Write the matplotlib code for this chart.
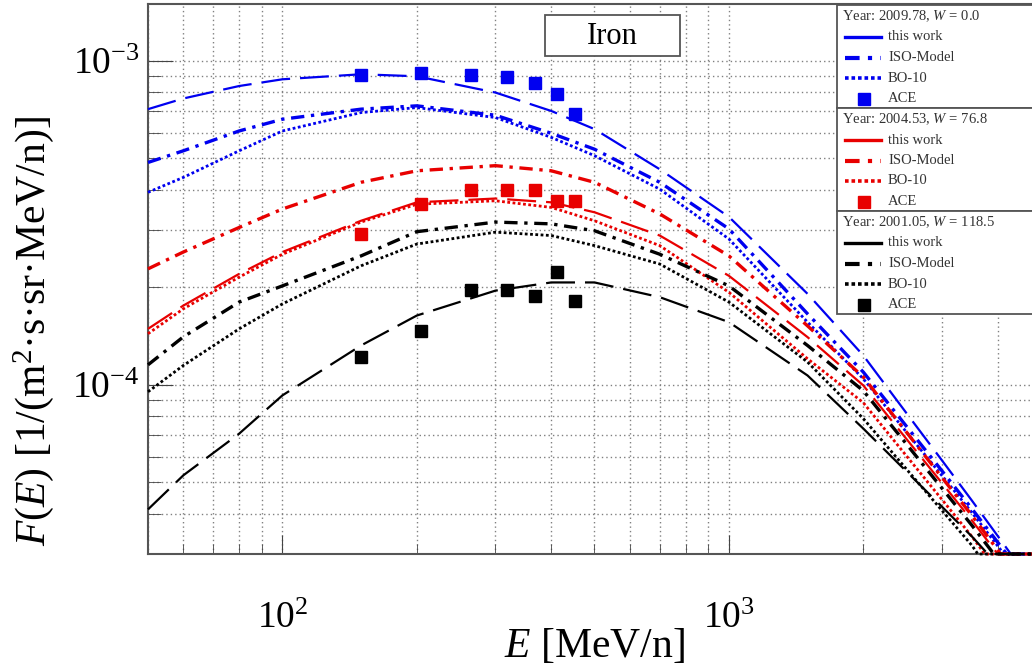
import matplotlib
matplotlib.use("Agg")
import matplotlib.pyplot as plt
from matplotlib.lines import Line2D
from matplotlib.patches import Rectangle

plt.rcParams['font.family'] = ['Liberation Serif', 'DejaVu Serif']
plt.rcParams['mathtext.fontset'] = 'custom'
plt.rcParams['mathtext.rm'] = 'Liberation Serif'
plt.rcParams['mathtext.it'] = 'Liberation Serif:italic'

# kinetic energy grid the curves were read at [MeV/n]
energy = [50, 60, 80, 100, 150, 200, 300, 400, 500, 700, 1000, 1500, 2000, 2500, 3000, 3500]
e_end = 5000
f_floor = 3e-5

# 2009.78, W = 0.0
tw_2009 = [7.10e-4, 7.66e-4, 8.37e-4, 8.78e-4, 9.10e-4, 8.97e-4, 7.99e-4, 7.01e-4, 6.16e-4, 4.63e-4,
           3.30e-4, 1.909e-4, 1.231e-4, 8.16e-5, 5.84e-5, 4.39e-5]
iso_2009 = [4.86e-4, 5.28e-4, 6.08e-4, 6.61e-4, 7.10e-4, 7.27e-4, 6.80e-4, 5.98e-4, 5.34e-4, 4.22e-4,
            3.03e-4, 1.656e-4, 1.094e-4, 7.43e-5, 5.42e-5, 4.14e-5]
bo_2009 = [3.93e-4, 4.37e-4, 5.28e-4, 6.08e-4, 6.93e-4, 7.18e-4, 6.69e-4, 5.81e-4, 5.10e-4, 4.02e-4,
           2.82e-4, 1.561e-4, 1.043e-4, 7.13e-5, 5.24e-5, 4.03e-5]
# 2004.53, W = 76.8
tw_2004 = [1.488e-4, 1.756e-4, 2.20e-4, 2.57e-4, 3.21e-4, 3.66e-4, 3.76e-4, 3.66e-4, 3.41e-4, 2.89e-4,
           2.17e-4, 1.403e-4, 9.95e-5, 6.79e-5, 4.97e-5, 3.81e-5]
iso_2004 = [2.28e-4, 2.57e-4, 3.06e-4, 3.49e-4, 4.22e-4, 4.58e-4, 4.75e-4, 4.58e-4, 4.22e-4, 3.37e-4,
            2.50e-4, 1.52e-4, 1.056e-4, 7.13e-5, 5.17e-5, 3.95e-5]
bo_2004 = [1.437e-4, 1.716e-4, 2.15e-4, 2.53e-4, 3.18e-4, 3.61e-4, 3.70e-4, 3.53e-4, 3.21e-4, 2.69e-4,
           1.93e-4, 1.203e-4, 8.80e-5, 6.02e-5, 4.42e-5, 3.40e-5]
# 2001.05, W = 118.5
tw_2001 = [4.12e-5, 5.25e-5, 7.06e-5, 9.27e-5, 1.322e-4, 1.636e-4, 1.953e-4, 2.07e-4, 2.07e-4, 1.864e-4,
           1.561e-4, 1.068e-4, 7.32e-5, 5.39e-5, 4.20e-5, 3.40e-5]
iso_2001 = [1.152e-4, 1.406e-4, 1.80e-4, 2.02e-4, 2.50e-4, 2.97e-4, 3.18e-4, 3.14e-4, 2.99e-4, 2.53e-4,
            2.02e-4, 1.322e-4, 9.58e-5, 6.55e-5, 4.79e-5, 3.68e-5]
bo_2001 = [9.51e-5, 1.147e-4, 1.488e-4, 1.777e-4, 2.33e-4, 2.72e-4, 2.96e-4, 2.89e-4, 2.69e-4, 2.36e-4,
           1.80e-4, 1.175e-4, 7.86e-5, 5.48e-5, 4.09e-5, 3.19e-5]

# energy where each curve drops below the frame (this work, ISO, BO-10)
cross_2009 = [4280, 4190, 4130]
cross_2004 = [4000, 4060, 3740]
cross_2001 = [3800, 3920, 3610]

# ACE data
ace_energy = [150, 204, 264, 318, 367, 412, 453]
ace_2009 = [9.03e-4, 9.17e-4, 9.03e-4, 8.95e-4, 8.58e-4, 7.89e-4, 6.88e-4]
ace_2004 = [2.92e-4, 3.61e-4, 3.99e-4, 3.99e-4, 3.99e-4, 3.69e-4, 3.69e-4]
ace_2001 = [1.217e-4, 1.47e-4, 1.967e-4, 1.967e-4, 1.877e-4, 2.226e-4, 1.82e-4]

years = ['2009.78', '2004.53', '2001.05']
w_values = ['0.0', '76.8', '118.5']
colors = ['#0000f0', '#e80000', 'black']
models = ['this work', 'ISO-Model', 'BO-10', 'ACE']

groups = [(tw_2009, iso_2009, bo_2009, cross_2009, ace_2009),
          (tw_2004, iso_2004, bo_2004, cross_2004, ace_2004),
          (tw_2001, iso_2001, bo_2001, cross_2001, ace_2001)]

styles = [dict(lw=1.6, dashes=(13, 4.5)),
          dict(lw=2.4, dashes=(4, 2, 1, 2)),
          dict(lw=2.0, dashes=(1, 0.9))]

fig = plt.figure(figsize=(10.32, 6.68), dpi=100)
ax = fig.add_axes([148 / 1032, 114 / 668, 893 / 1032, 550 / 668])

for (tw, iso, bo, cross, ace), col in zip(groups, colors):
    for vals, ce, st in zip([tw, iso, bo], cross, styles):
        ax.plot(energy + [ce, e_end], vals + [f_floor, f_floor], color=col, clip_on=False, zorder=3, **st)
    ax.plot(ace_energy, ace, 's', color=col, ms=9, zorder=4)

ax.set_xscale('log')
ax.set_yscale('log')
ax.set_xlim(50, 5000)
ax.set_ylim(3e-5, 1.5e-3)
ax.grid(True, which='both', linestyle=(0, (1, 2.2)), color='#808080', lw=1.0)
ax.tick_params(which='both', direction='in', top=False, right=False, color='#444444')
ax.tick_params(axis='x', which='major', length=14, labelsize=27, pad=34)
ax.tick_params(axis='x', which='minor', length=7)
ax.tick_params(axis='y', which='major', length=18, labelsize=27, pad=6)
ax.tick_params(axis='y', which='minor', length=9)
ax.yaxis.set_minor_formatter(plt.NullFormatter())
ax.xaxis.set_minor_formatter(plt.NullFormatter())
for sp in ax.spines.values():
    sp.set_color('#555555')
    sp.set_linewidth(1.5)
ax.set_xlabel('$E$ [MeV/n]', fontsize=30, labelpad=-6)
ax.set_ylabel('$F(E)$ [1/(m$^2$·s·sr·MeV/n)]', fontsize=30)
ax.yaxis.set_label_coords(-0.103, 0.405)

# overlay in pixel units for the legend boxes and the label box
ov = fig.add_axes([0, 0, 1, 1])
ov.set_xlim(0, 1032)
ov.set_ylim(668, 0)
ov.axis('off')

ov.add_patch(Rectangle((545, 15), 135, 41, facecolor='white', edgecolor='#555555', lw=1.3, zorder=5))
ov.text(612, 36, 'Iron', fontsize=22, ha='center', va='center', zorder=6)

box_top = [5, 108, 211]
for top, yr, w, col in zip(box_top, years, w_values, colors):
    ov.add_patch(Rectangle((836.5, top), 220, 103, facecolor='white', edgecolor='#555555', lw=1.3, zorder=5))
    ov.text(842, top + 11, 'Year: %s, $W$ = %s' % (yr, w), fontsize=10.5, va='center', zorder=6,
            color='#333333')
    rows = [top + 32, top + 52.5, top + 73, top + 93.5]
    ov.add_line(Line2D([845, 881], [rows[0]] * 2, color=col, lw=2.4, zorder=6))
    ov.add_line(Line2D([845, 881], [rows[1]] * 2, color=col, lw=3, dashes=(3.5, 2, 1, 2), zorder=6))
    ov.add_line(Line2D([845, 881], [rows[2]] * 2, color=col, lw=2.6, dashes=(1, 0.8), zorder=6))
    ov.add_line(Line2D([864], [rows[3]], marker='s', color=col, ms=9, zorder=6))
    for r, name in zip(rows, models):
        ov.text(888, r, name, fontsize=10.5, va='center', zorder=6, color='#333333')

fig.savefig('out.png', dpi=100)
